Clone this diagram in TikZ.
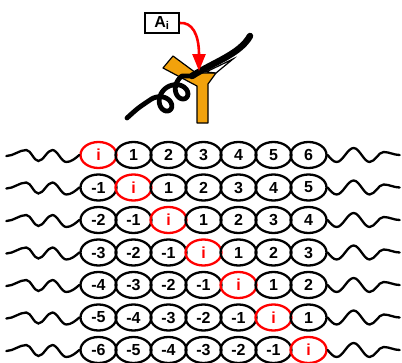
\documentclass[tikz,border=0pt]{standalone}
\usepackage{fontspec}
\setsansfont{Liberation Sans}[BoldFont={Liberation Sans Bold}]
\usepackage{tikz}
\usetikzlibrary{arrows.meta, shapes.geometric}
\definecolor{clamporange}{RGB}{242,162,12}

\begin{document}
\begin{tikzpicture}[
  x=1pt, y=-1pt,
  every node/.style={font=\fontsize{16}{16}\selectfont\sffamily\bfseries},
  base/.style={ellipse, draw=black, line width=2.3pt, minimum width=36pt,
               minimum height=26pt, inner sep=0pt},
  site/.style={base, draw=red, text=red},
  wave/.style={line width=2.3pt, line cap=round},
  strand/.style={line width=4.8pt, line cap=round, line join=round},
  arrow/.style={-{Triangle[length=17pt, width=13pt]}, line width=2.6pt, red}
]
  \useasboundingbox (0,0) rectangle (402,362);

  % enzyme label
  \node[draw, line width=1.8pt, minimum width=34pt, minimum height=20pt,
        inner sep=0pt, font=\fontsize{16}{16}\selectfont\sffamily\bfseries]
    (enz) at (162,23) {A\textsubscript{i}};

  % clamp
  \filldraw[fill=clamporange, draw=black, line width=1.2pt, line join=round]
    (163,68) -- (173,56) -- (196,73) -- (216,73) -- (208,84)
    -- (208,123) -- (197,123) -- (197,86) -- cycle;
  \filldraw[fill=white, draw=black, line width=1.2pt]
    (216,73) -- (233,59) -- (206,72) -- cycle;

  % strand with coil
  \draw[strand, line width=6.5pt] (250,36) .. controls (240,54) and (214,62) .. (192,76);
  \draw[strand] (192,76) -- plot[domain=0:720, samples=120, variable=\t]
    ({188-0.8*(3.2*rad(\t)+10*sin(\t))-6*cos(\t)},
     {84+0.6*(3.2*rad(\t)+10*sin(\t))-8*cos(\t)})
    .. controls (138,108) .. (127,118);

  \coordinate (tip) at (199,71);
  \draw[arrow] (enz.east) .. controls (192,22) and (199,34) .. (tip);

  % bead rows
  \foreach \r in {0,...,6}{
    \foreach \c in {0,...,6}{
      \pgfmathtruncatemacro{\v}{\c-\r}
      \ifnum\v=0
        \node[site] (b-\r-\c) at ({98.5+35*\c},{155+32.5*\r}) {i};
      \else
        \node[base] (b-\r-\c) at ({98.5+35*\c},{155+32.5*\r}) {\v};
      \fi
    }
    \draw[wave] (b-\r-0.west) ++(-73,1) cos ++(10,-3) sin ++(10,-3)
      cos ++(6,5.5) sin ++(6,5.5) cos ++(7,-5.5) sin ++(7,-5.5)
      cos ++(7,6) sin ++(7,6) cos ++(13,-7);
    \draw[wave] (b-\r-6.east) sin ++(9,7) cos ++(8.5,-7) sin ++(8.5,-7)
      cos ++(8,7) sin ++(8,7) cos ++(7,-5) sin ++(7,-5)
      cos ++(8,1.5) sin ++(8,1.5);
  }

\end{tikzpicture}
\end{document}
